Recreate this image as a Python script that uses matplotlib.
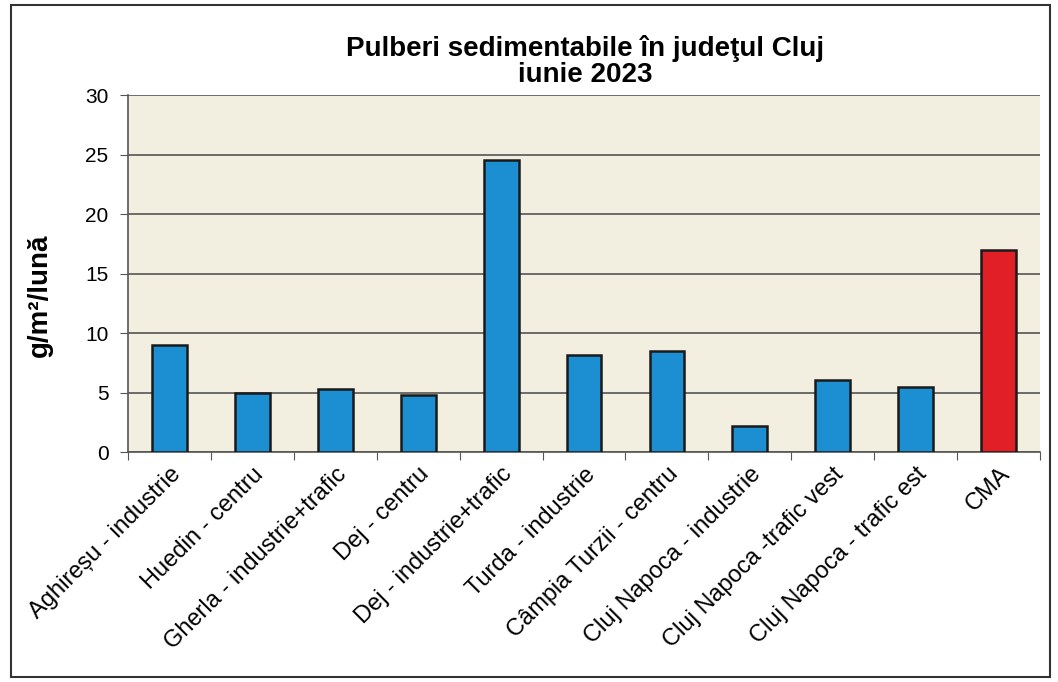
import matplotlib.pyplot as plt
from matplotlib.patches import Rectangle

statii = ["Aghireșu - industrie", "Huedin - centru", "Gherla - industrie+trafic",
          "Dej - centru", "Dej - industrie+trafic", "Turda - industrie",
          "Câmpia Turzii - centru", "Cluj Napoca - industrie",
          "Cluj Napoca -trafic vest", "Cluj Napoca - trafic est", "CMA"]
valori = [9.0, 5.0, 5.3, 4.8, 24.6, 8.2, 8.5, 2.2, 6.1, 5.5, 17.0]
culori = ["#1b8fd2"] * 10 + ["#e01f26"]

plt.rcParams['font.family'] = ['Liberation Sans', 'DejaVu Sans']

fig = plt.figure(figsize=(10.58, 6.82), dpi=100, facecolor="white")
ax = fig.add_axes([0.121, 0.337, 0.862, 0.523])
ax.set_facecolor("#f3efe0")

x = range(len(statii))
ax.bar(x, valori, width=0.42, color=culori, edgecolor="#1a1a1a", linewidth=1.8, zorder=3)

ax.set_ylim(0, 30)
ax.set_xlim(-0.5, len(statii) - 0.5)
ax.set_yticks(range(0, 31, 5))
ax.yaxis.grid(True, color="#555555", linewidth=1.2, zorder=0)
ax.tick_params(axis="y", labelsize=15, length=6, color="#555555", pad=8)
ax.set_xticks([i + 0.5 for i in range(-1, len(statii))], minor=False)
ax.set_xticklabels([])
ax.set_xticks(list(x), minor=True)
ax.set_xticklabels(statii, minor=True, rotation=45, ha="right", rotation_mode="anchor", fontsize=17)
ax.tick_params(axis="x", which="minor", length=0, pad=8)
ax.tick_params(axis="x", which="major", length=6, color="#555555")

for s in ["top", "right"]:
    ax.spines[s].set_visible(False)
ax.spines["left"].set_color("#555555")
ax.spines["bottom"].set_color("#555555")
ax.spines["left"].set_linewidth(1.2)
ax.spines["bottom"].set_linewidth(1.2)

ax.set_ylabel("g/m²/lună", fontsize=20, fontweight="bold")
ax.yaxis.set_label_coords(-0.082, 0.44)
fig.text(0.553, 0.91, "Pulberi sedimentabile în judeţul Cluj\niunie 2023",
         ha="center", va="center", fontsize=20, fontweight="bold", linespacing=1.0)

fig.patches.append(Rectangle((0.01, 0.008), 0.982, 0.985, transform=fig.transFigure,
                             fill=False, edgecolor="#333333", linewidth=1.5))

fig.savefig("out.png", dpi=100)
